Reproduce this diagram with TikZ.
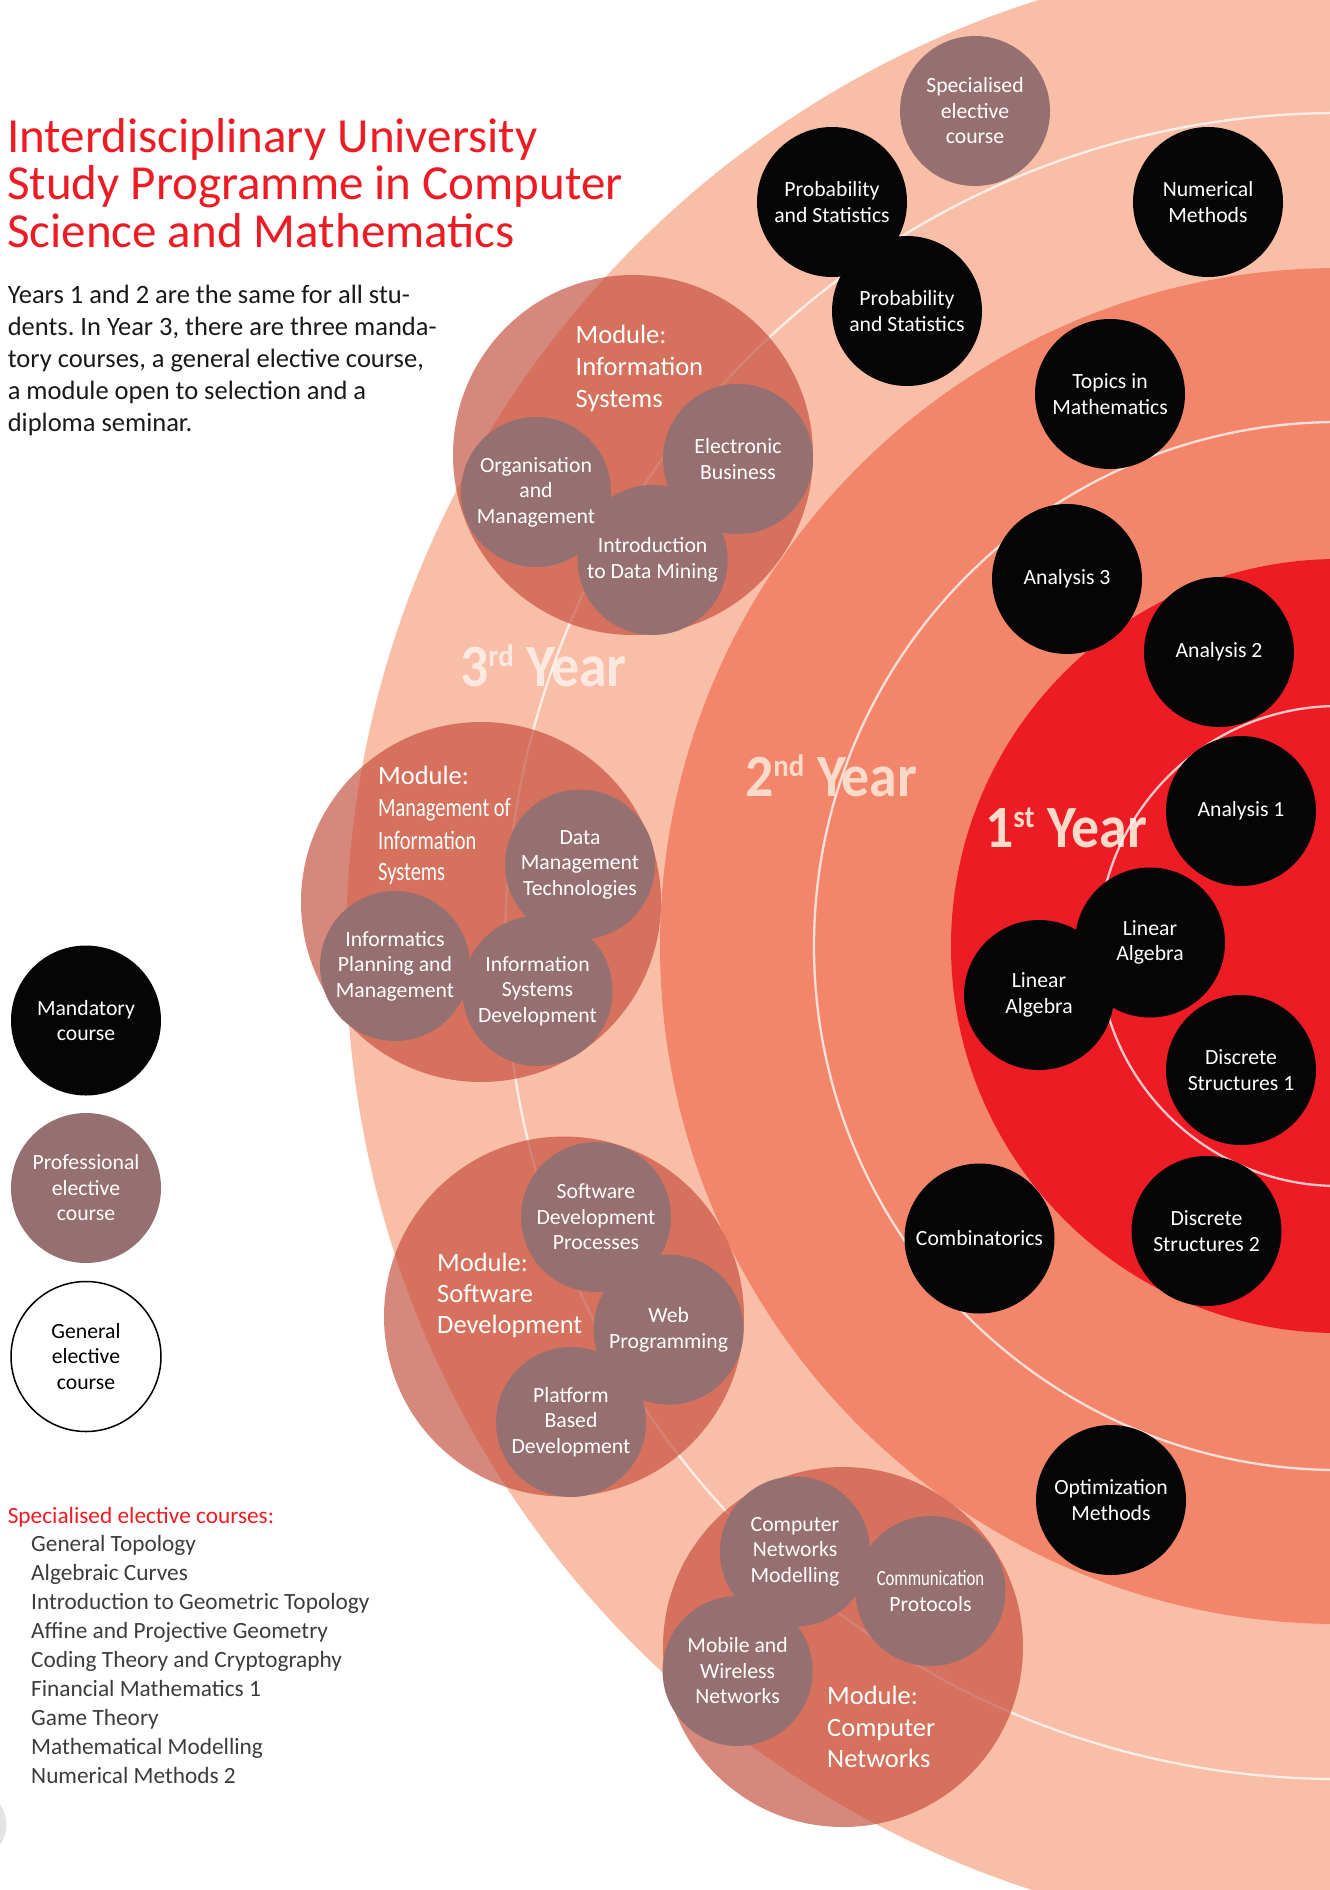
\documentclass[tikz,border=0pt]{standalone}
\usepackage{fontspec}
\setmainfont{Carlito}
\newfontfamily\condfont{Carlito}[FakeStretch=0.77]
\newfontfamily\yearfont{Carlito}[FakeStretch=0.93]
\frenchspacing
\definecolor{bandA}{RGB}{249,190,168}
\definecolor{bandB}{RGB}{243,134,106}
\definecolor{bandC}{RGB}{237,28,36}
\definecolor{modc}{RGB}{194,72,54}
\definecolor{profc}{RGB}{150,112,112}
\definecolor{mandc}{RGB}{5,5,5}
\definecolor{titlered}{RGB}{237,28,36}
\definecolor{yearc}{RGB}{252,219,203}
\definecolor{yearlight}{RGB}{253,233,224}
\definecolor{bodyc}{RGB}{25,25,25}
\definecolor{listc}{RGB}{60,60,60}
\tikzset{
  course/.style={circle, minimum size=150pt, inner sep=0pt, align=center, text=white,
    font=\fontsize{21.7}{25.5}\selectfont},
  mand/.style={course, fill=mandc},
  prof/.style={course, fill=profc},
  gen/.style={course, fill=white, draw=black, line width=1.5pt, text=black},
  modcirc/.style={circle, minimum size=360pt, inner sep=0pt, fill=modc, fill opacity=0.65},
  ring/.style={draw=white, draw opacity=0.75, line width=2.3pt},
  txt/.style={anchor=base west, inner sep=0pt},
  titleline/.style={txt, text=titlered, font=\fontsize{49}{47}\selectfont},
  bodyline/.style={txt, text=bodyc, font=\fontsize{26.5}{32}\selectfont},
  modline/.style={txt, text=white, font=\fontsize{26.5}{32}\selectfont},
  condline/.style={txt, text=white, font=\condfont\fontsize{26.5}{32}\selectfont},
  listline/.style={txt, text=listc, font=\fontsize{23.3}{28.9}\selectfont},
  yearlabel/.style={txt, text=yearc, font=\yearfont\bfseries\fontsize{60}{60}\selectfont},
}
\newcommand{\supx}[1]{{\fontsize{31}{31}\selectfont\raisebox{20pt}{#1}}}
\begin{document}
\begin{tikzpicture}[x=1pt,y=-1pt]
\useasboundingbox (0,0) rectangle (1330,1890);
\clip (0,0) rectangle (1330,1890);
% bands
\fill[bandA] (1338,946) circle (992pt);
\fill[bandB] (1338,946) circle (678pt);
\fill[bandC] (1338,946) circle (387pt);
% page marker
\fill[gray!22] (-29.6,1824.5) circle (36pt);
% year labels
\node[yearlabel, text=yearlight] (y3) at (460,686) {3\supx{rd} Year};
\node[yearlabel] (y2) at (745,796.7) {2\supx{nd} Year};
\node[yearlabel] (y1) at (985,847) {1\supx{st} Year};
% white rings
\draw[ring] (1338,946) circle (833pt);
\draw[ring] (1338,946) circle (524pt);
\draw[ring] (1338,946) circle (240pt);
% modules
\node[modcirc] (modIS) at (633,455) {};
\node[modcirc] (modMIS) at (481,902) {};
\node[modcirc] (modSD) at (564,1316.5) {};
\node[modcirc] (modCN) at (843,1647) {};
% module labels
\node[modline] (lIS1) at (575.5,343.5) {Module:};
\node[modline] (lIS2) at (575.5,375.6) {Information};
\node[modline] (lIS3) at (575.5,407.8) {Systems};
\node[modline] (lMIS1) at (378,784.7) {Module:};
\node[condline] (lMIS2) at (378,816.8) {Management of};
\node[condline] (lMIS3) at (378,849) {Information};
\node[condline] (lMIS4) at (378,880) {Systems};
\node[modline] (lSD1) at (437,1271) {Module:};
\node[modline] (lSD2) at (437,1302) {Software};
\node[modline] (lSD3) at (437,1333) {Development};
\node[modline] (lCN1) at (827,1704) {Module:};
\node[modline] (lCN2) at (827,1736) {Computer};
\node[modline] (lCN3) at (827,1767) {Networks};
% professional elective courses
\node[prof] (sec) at (975,111) {Specialised\\elective\\course};
\node[prof] (ebus) at (738,459) {Electronic\\Business};
\node[prof] (idm) at (652.6,560) {Introduction\\to Data Mining};
\node[prof] (orgm) at (536,492) {Organisation\\and\\Management};
\node[prof] (dmt) at (580,864.5) {Data\\Management\\Technologies};
\node[prof] (ipm) at (395,966) {Informatics\\Planning and\\Management};
\node[prof] (isd) at (537.5,991) {Information\\Systems\\Development};
\node[prof] (sdp) at (596,1217) {Software\\Development\\Processes};
\node[prof] (webp) at (668.6,1329.6) {Web\\Programming};
\node[prof] (pbd) at (571,1422) {Platform\\Based\\Development};
\node[prof] (cnm) at (795,1551.5) {Computer\\Networks\\Modelling};
\node[prof] (cpr) at (930.5,1591) {{\condfont Communication}\\Protocols};
\node[prof] (mwn) at (737.6,1671) {Mobile and\\Wireless\\Networks};
% mandatory courses
\node[mand] (ps1) at (832,202) {Probability\\and Statistics};
\node[mand] (ps2) at (907,311) {Probability\\and Statistics};
\node[mand] (nm) at (1208,202) {Numerical\\Methods};
\node[mand] (tm) at (1110,394) {Topics in\\Mathematics};
\node[mand] (an3) at (1067,579) {Analysis 3};
\node[mand] (an2) at (1219,652) {Analysis 2};
\node[mand] (an1) at (1241,811) {Analysis 1};
\node[mand] (la2) at (1150,942.5) {Linear\\Algebra};
\node[mand] (la1) at (1039,995) {Linear\\Algebra};
\node[mand] (ds1) at (1241,1070) {Discrete\\Structures 1};
\node[mand] (ds2) at (1206.5,1231) {Discrete\\Structures 2};
\node[mand] (comb) at (979.5,1238.5) {Combinatorics};
\node[mand] (opt) at (1111,1500) {Optimization\\Methods};
% legend
\node[mand] (legM) at (86,1020.5) {Mandatory\\course};
\node[prof] (legP) at (86,1188) {Professional\\elective\\course};
\node[gen] (legG) at (86,1356.5) {General\\elective\\course};
% title
\node[titleline] (t1) at (7,152.7) {Interdisciplinary University};
\node[titleline] (t2) at (7,199.7) {Study Programme in Computer};
\node[titleline] (t3) at (7,247) {Science and Mathematics};
% body
\node[bodyline] (b1) at (7.6,303) {Years 1 and 2 are the same for all stu-};
\node[bodyline] (b2) at (7.6,335) {dents. In Year 3, there are three manda-};
\node[bodyline] (b3) at (7.6,367) {tory courses, a general elective course,};
\node[bodyline] (b4) at (7.6,399) {a module open to selection and a};
\node[bodyline] (b5) at (7.6,431) {diploma seminar.};
% specialised list
\node[listline, text=titlered] (sh) at (7.6,1523) {Specialised elective courses:};
\foreach \t [count=\i] in {General Topology, Algebraic Curves, Introduction to Geometric Topology,
  Affine and Projective Geometry, Coding Theory and Cryptography, Financial Mathematics 1,
  Game Theory, Mathematical Modelling, Numerical Methods 2}
  \node[listline] (sl\i) at (31,1523+28.9*\i) {\t};
\end{tikzpicture}
\end{document}
